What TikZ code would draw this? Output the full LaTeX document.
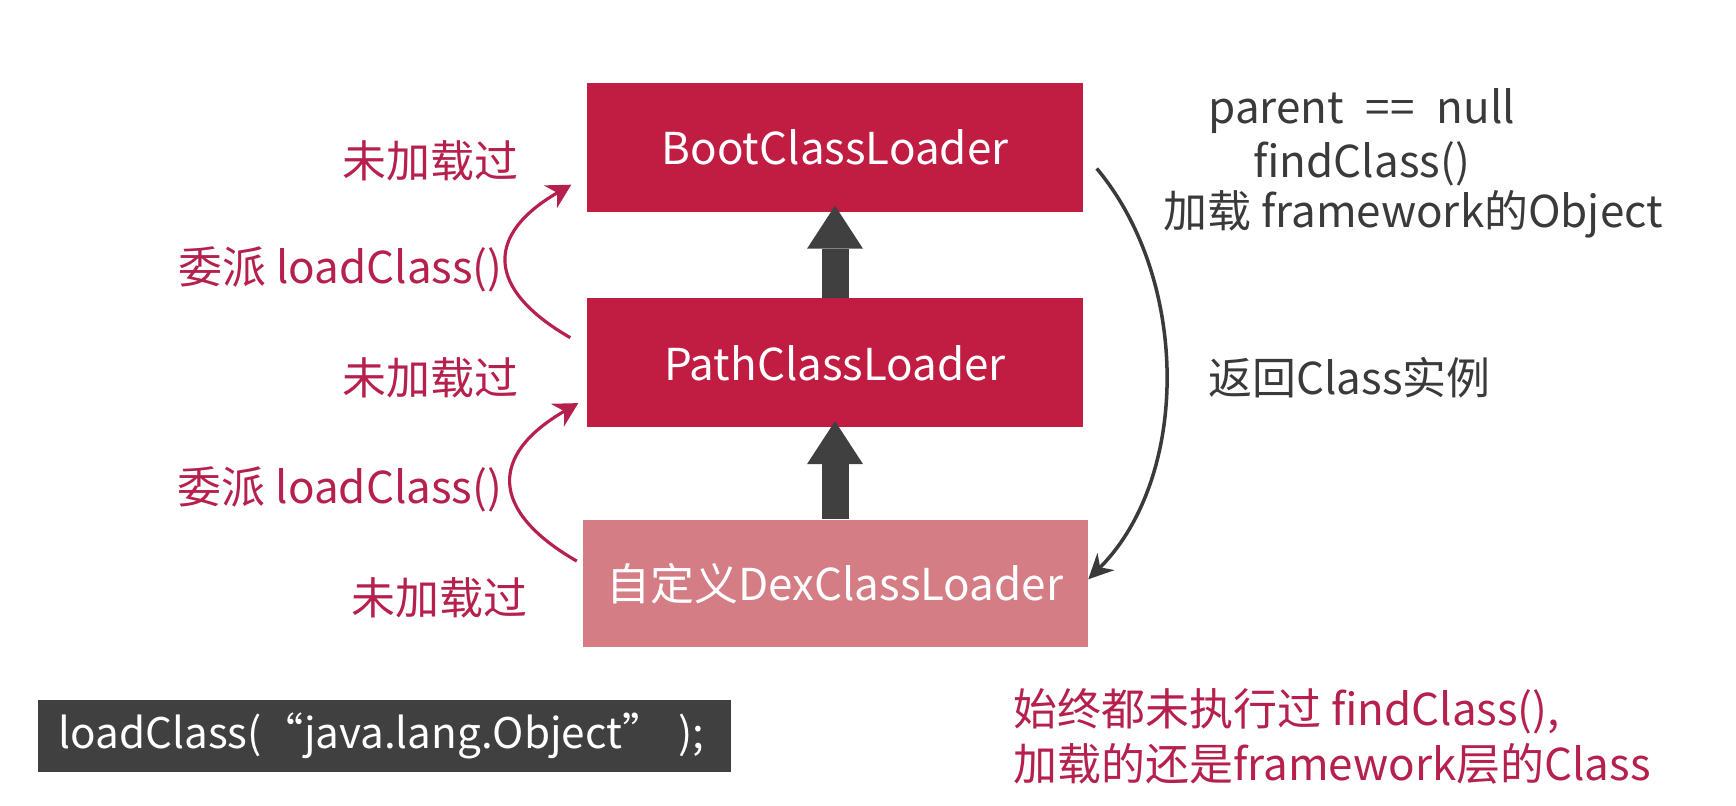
\documentclass[tikz,border=0pt]{standalone}
\usepackage{fontspec}
\setmainfont{Noto Sans CJK SC}
\usetikzlibrary{arrows.meta, calc, positioning}

\definecolor{loaderred}{RGB}{193,28,66}
\definecolor{loaderpink}{RGB}{212,125,133}
\definecolor{notered}{RGB}{181,32,76}
\definecolor{arrowgray}{RGB}{64,64,64}
\definecolor{textgray}{RGB}{58,58,58}

\begin{document}
\begin{tikzpicture}[
    font=\fontsize{12.5}{15.6}\selectfont,
    loader/.style={minimum width=49.6mm, minimum height=12.9mm,
                   inner sep=0pt, text=white, fill=loaderred},
    notelabel/.style={text=notered, inner sep=0pt},
    sidelabel/.style={text=textgray, inner sep=0pt},
    codebox/.style={fill=arrowgray, text=white, inner xsep=2.1mm,
                    text width=65.1mm, align=left, minimum height=7.2mm,
                    font=\fontsize{12}{15}\selectfont},
    bigarrow/.style={-{Triangle[length=4.3mm, width=5.6mm, line width=0pt]},
                     line width=2.7mm, draw=arrowgray, shorten >=-0.7mm},
    delegate/.style={-{Stealth[length=2.4mm, width=2.6mm]},
                     line width=0.9pt, draw=notered},
    giveback/.style={-{Stealth[length=2.5mm, width=2.4mm]},
                     line width=1pt, draw=textgray},
]
\useasboundingbox (0,0) rectangle (17.36,-8.06);

% ---------------- loader chain ----------------
\node[loader] (boot) at (8.35,-1.475) {BootClassLoader};
\node[loader, below=8.5mm of boot] (path) {PathClassLoader};
\node[loader, fill=loaderpink, minimum width=50.5mm, minimum height=12.7mm,
      below=9.1mm of path] (dex) {自定义DexClassLoader};

% parent links (thick gray arrows)
\draw[bigarrow] (path.north) -- (boot.south);
\draw[bigarrow] (dex.north) -- (path.south);

% ---------------- left side: delegation ----------------
\node[notelabel, left=6.7mm of boot.west, yshift=-1.3mm]       (nl1) {未加载过};
\node[notelabel, left=8.3mm of path.north west, yshift=2.8mm]  (dl1) {委派 loadClass()};
\node[notelabel, left=6.7mm of path.west, yshift=-1.45mm]      (nl2) {未加载过};
\node[notelabel, left=7.9mm of dex.north west, yshift=3mm]     (dl2) {委派 loadClass()};
\node[notelabel, left=5.4mm of dex.west, yshift=-1.5mm]        (nl3) {未加载过};

\draw[delegate] ([xshift=-1.6mm, yshift=-4mm]path.north west)
    to[out=150, in=210, looseness=1.65] ([xshift=-1.5mm, yshift=2.8mm]boot.south west);
\draw[delegate] ([xshift=-0.5mm, yshift=-4.2mm]dex.north west)
    to[out=150, in=210, looseness=1.65] ([xshift=-0.8mm, yshift=2.5mm]path.south west);

% ---------------- right side: result ----------------
\node[sidelabel, right=12.4mm of boot.north east, yshift=-2.9mm] (parentnull) {parent\enspace==\enspace null};
\node[sidelabel, right=16.9mm of boot.east, yshift=-1.6mm]       (findclass)  {findClass()};
\node[sidelabel, right=7.9mm of boot.south east, yshift=-0.2mm]  (loadobj)    {加载 framework的Object};
\node[sidelabel, right=12.4mm of path.east, yshift=-1.45mm]      (giveclass)  {返回Class实例};

\draw[giveback] ([xshift=1.3mm, yshift=-2.1mm]boot.east)
    to[out=-50, in=45, looseness=0.9] ([yshift=0.4mm]dex.east);

% ---------------- bottom ----------------
\node[codebox, anchor=west] (code) at (0.37,-7.36) {\mbox{loadClass(“java.lang.Object” );}};
\node[notelabel, anchor=west, align=left] (summary) at (10.13,-7.365)
    {始终都未执行过 findClass(),\\加载的还是framework层的Class};

\end{tikzpicture}
\end{document}
